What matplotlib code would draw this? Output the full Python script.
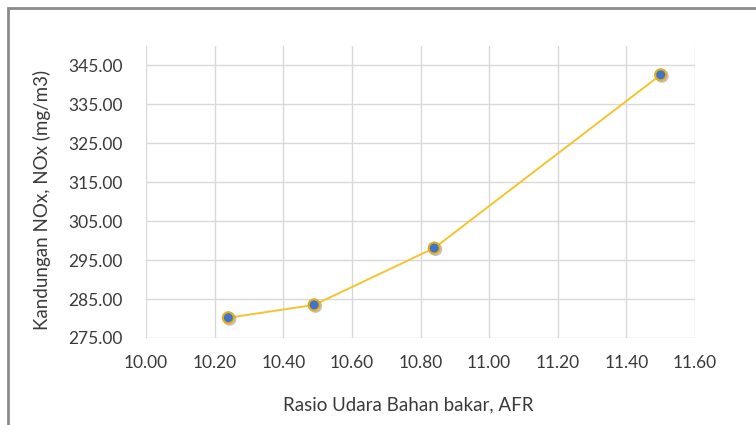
import matplotlib
matplotlib.use("Agg")
import matplotlib.pyplot as plt
import matplotlib.patheffects as pe
from matplotlib.patches import Rectangle

# Air-fuel ratio vs NOx content
afr = [10.24, 10.49, 10.84, 11.50]
nox = [280.2, 283.5, 298.1, 342.6]

x_ticks = [10.00, 10.20, 10.40, 10.60, 10.80, 11.00, 11.20, 11.40, 11.60]
y_ticks = [275.0, 285.0, 295.0, 305.0, 315.0, 325.0, 335.0, 345.0]

plt.rcParams['font.family'] = ['Lato', 'DejaVu Sans']

fig = plt.figure(figsize=(7.56, 4.25), dpi=100)
fig.patch.set_facecolor('white')

# outer chart frame (top and left edges visible)
fig.patches.append(Rectangle((8 / 756, -0.2), 1.5, (425 - 8) / 425 + 0.2,
                             transform=fig.transFigure, fill=False,
                             edgecolor='#8a8a8a', linewidth=2.0, zorder=0))

W = 695 - 146
H = 338 - 46
ax = fig.add_axes([146 / 756, (425 - 338) / 425, W / 756, H / 425])
ax.set_xlim(10.0, 11.6)
ax.set_ylim(275, 350)
ax.set_xticks(x_ticks)
ax.set_yticks(y_ticks)
ax.set_xticklabels([f"{v:.2f}" for v in x_ticks])
ax.set_yticklabels([f"{v:.2f}" for v in y_ticks])
ax.grid(True, color='#d9d9d9', linewidth=1.0)
ax.set_axisbelow(True)
for s in ax.spines.values():
    s.set_visible(False)
ax.tick_params(axis='x', length=0, labelsize=12.5, pad=12)
ax.tick_params(axis='y', length=0, labelsize=12.5, pad=17)
for lbl in ax.get_xticklabels() + ax.get_yticklabels():
    lbl.set_color('#3a3a3a')

ax.plot(afr, nox, color='#f4c430', linewidth=1.4, zorder=3)
ax.plot(afr, nox, linestyle='none', marker='o', markersize=8,
        markerfacecolor='#4472c4', markeredgecolor='#e0b020', markeredgewidth=1.5,
        zorder=4,
        path_effects=[pe.SimpleLineShadow(offset=(1, -1), shadow_color='#555555', alpha=0.35),
                      pe.Normal()])

ax.set_xlabel('Rasio Udara Bahan bakar, AFR', fontsize=13.5, color='#3a3a3a', va='center')
ax.set_ylabel('Kandungan NOx, NOx (mg/m3)', fontsize=13.5, color='#3a3a3a', va='center')
ax.xaxis.set_label_coords((408 - 146) / W, (338 - 405) / H)
ax.yaxis.set_label_coords((42 - 146) / W, (338 - 200) / H)

fig.savefig('out.png', dpi=100)
